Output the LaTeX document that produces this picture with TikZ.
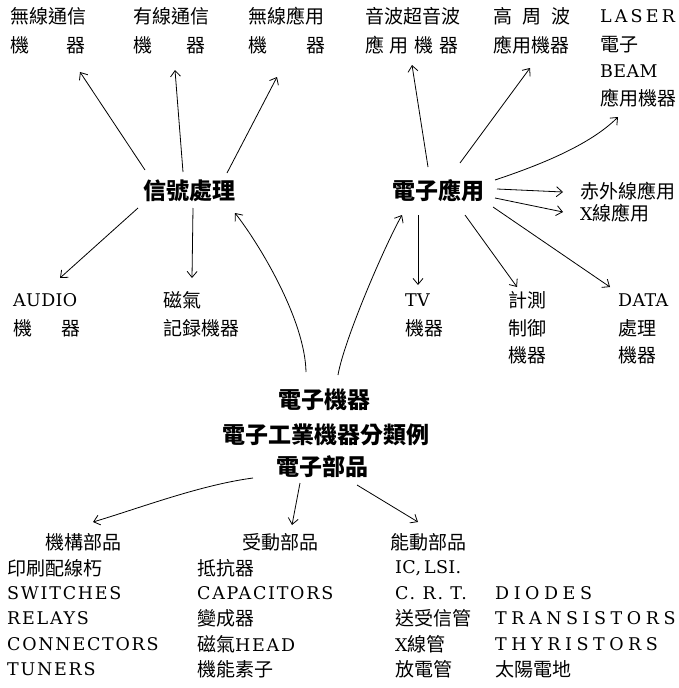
\documentclass[tikz,border=0pt]{standalone}
\usepackage{fontspec}
\setmainfont{DejaVu Serif}
\newfontfamily\cjk{Noto Sans CJK TC}
\newfontfamily\lat{DejaVu Serif}[LetterSpace=10]
\newfontfamily\latn{DejaVu Serif}[LetterSpace=2]
\newfontfamily\latl{DejaVu Serif}[LetterSpace=18]
\newfontfamily\latw{DejaVu Serif}[LetterSpace=26]
\usetikzlibrary{arrows.meta}
\newcommand\zh[1]{{\fontsize{19}{22}\selectfont\cjk #1}}
\newcommand\spr[2]{\hbox to #1{#2}}
\tikzset{
  txt/.style={anchor=west, inner sep=0pt, font=\fontsize{17.5}{22}\selectfont\latn},
  txtm/.style={anchor=west, inner sep=0pt, font=\fontsize{17.5}{22}\selectfont\lat},
  txtl/.style={anchor=west, inner sep=0pt, font=\fontsize{17.5}{22}\selectfont\latl},
  txtw/.style={anchor=west, inner sep=0pt, font=\fontsize{17.5}{22}\selectfont\latw},
  bold/.style={anchor=center, inner sep=0pt, font=\fontsize{23}{26}\selectfont\cjk\bfseries},
  arr/.style={-{Straight Barb[length=6pt,width=10pt]}, line width=0.8pt},
}
\begin{document}
\begin{tikzpicture}[x=1pt,y=-1pt]
\fill[white] (0,0) rectangle (679,688);
\useasboundingbox (0,0) rectangle (679,688);
% top row
\node[txt] (t1a) at (10,16) {\zh{無線通信}};
\node[txt] (t1b) at (10,45) {\zh{\spr{75pt}{機\hfill 器}}};
\node[txt] (t2a) at (133,16) {\zh{有線通信}};
\node[txt] (t2b) at (133,45) {\zh{\spr{72pt}{機\hfill 器}}};
\node[txt] (t3a) at (248,16) {\zh{無線應用}};
\node[txt] (t3b) at (248,45) {\zh{\spr{77pt}{機\hfill 器}}};
\node[txt] (t4a) at (365,16) {\zh{音波超音波}};
\node[txt] (t4b) at (365,45) {\zh{\spr{93pt}{應\hfill 用\hfill 機\hfill 器}}};
\node[txt] (t5a) at (493,16) {\zh{\spr{77pt}{高\hfill 周\hfill 波}}};
\node[txt] (t5b) at (493,45) {\zh{應用機器}};
\node[txtl] (t6a) at (600,16) {LASER};
\node[txt] (t6b) at (600,45) {\zh{\spr{36pt}{電\hfill 子}}};
\node[txt] (t6c) at (600,71) {BEAM};
\node[txt] (t6d) at (600,98) {\zh{應用機器}};
% middle
\node[bold] (sig) at (189,191) {信號處理};
\node[bold] (app) at (438,191) {電子應用};
\node[txt] (ir) at (580,191) {\zh{赤外線應用}};
\node[txt] (xr) at (580,213) {X\zh{線應用}};
\node[txt] (au1) at (13,300) {AUDIO};
\node[txt] (au2) at (13,328) {\zh{\spr{67pt}{機\hfill 器}}};
\node[txt] (mg1) at (163,300) {\zh{磁氣}};
\node[txt] (mg2) at (163,328) {\zh{記録機器}};
\node[txt] (tv1) at (405,300) {TV};
\node[txt] (tv2) at (405,328) {\zh{機器}};
\node[txt] (me1) at (508,300) {\zh{計測}};
\node[txt] (me2) at (508,328) {\zh{制御}};
\node[txt] (me3) at (508,355) {\zh{機器}};
\node[txt] (da1) at (618,300) {DATA};
\node[txt] (da2) at (618,328) {\zh{處理}};
\node[txt] (da3) at (618,355) {\zh{機器}};
% centre block
\node[bold] (dev) at (324,400) {電子機器};
\node[bold] (cls) at (326,435) {電子工業機器分類例};
\node[bold] (parts) at (322,467) {電子部品};
% bottom
\node[txt] (mech) at (45,542) {\zh{機構部品}};
\node[txt] (pass) at (242,542) {\zh{受動部品}};
\node[txt] (act) at (390,542) {\zh{能動部品}};
\node[txt] (l1) at (7,568) {\zh{印刷配線朽}};
\node[txtm] (l2) at (7,593) {SWITCHES};
\node[txtm] (l3) at (7,618) {RELAYS};
\node[txtm] (l4) at (7,644) {CONNECTORS};
\node[txtm] (l5) at (7,669) {TUNERS};
\node[txt] (m1) at (197,568) {\zh{抵抗器}};
\node[txtm] (m2) at (197,593) {CAPACITORS};
\node[txt] (m3) at (197,618) {\zh{變成器}};
\node[txtm] (m4) at (197,644) {\zh{磁氣}HEAD};
\node[txt] (m5) at (197,669) {\zh{機能素子}};
\node[txt] (r1) at (395,568) {IC,\,LSI.};
\node[txtm] (r2) at (395,593) {C. R. T.};
\node[txt] (r3) at (395,618) {\zh{送受信管}};
\node[txt] (r4) at (395,644) {X\zh{線管}};
\node[txt] (r5) at (395,669) {\zh{放電管}};
\node[txtw] (s2) at (495,593) {DIODES};
\node[txtw] (s3) at (495,618) {TRANSISTORS};
\node[txtw] (s4) at (495,644) {THYRISTORS};
\node[txt] (s5) at (495,669) {\zh{太陽電地}};
% arrows from sig
\draw[arr] ([shift={(-44,-21)}]sig.center) -- ([shift={(70,27)}]t1b.west);
\draw[arr] ([shift={(-6,-19)}]sig.center) -- ([shift={(42,25)}]t2b.west);
\draw[arr] ([shift={(38,-18)}]sig.center) -- ([shift={(29,32)}]t3b.west);
\draw[arr] ([shift={(-51,17)}]sig.center) -- ([shift={(47,-22)}]au1.west);
\draw[arr] ([shift={(4,17)}]sig.center) -- ([shift={(29,-22)}]mg1.west);
% arrows from app
\draw[arr] ([shift={(-10,-24)}]app.center) -- ([shift={(47,20)}]t4b.west);
\draw[arr] ([shift={(22,-28)}]app.center) -- ([shift={(37,23)}]t5b.west);
\draw[arr] ([shift={(57,-11)}]app.center) .. controls (540,165) and (590,145) .. ([shift={(18,19)}]t6d.west);
\draw[arr] ([shift={(59,-2)}]app.center) -- ([shift={(-17,1)}]ir.west);
\draw[arr] ([shift={(57,7)}]app.center) -- ([shift={(-17,-1)}]xr.west);
\draw[arr] ([shift={(-20,24)}]app.center) -- ([shift={(13,-15)}]tv1.west);
\draw[arr] ([shift={(27,24)}]app.center) -- ([shift={(9,-13)}]me1.west);
\draw[arr] ([shift={(55,16)}]app.center) -- ([shift={(-8,-13)}]da1.west);
% arrows from dev
\draw[arr] ([shift={(-18,-28)}]dev.center) .. controls (305,320) and (260,245) .. ([shift={(46,22)}]sig.center);
\draw[arr] ([shift={(14,-25)}]dev.center) .. controls (344,340) and (385,245) .. ([shift={(-36,24)}]app.center);
% arrows from parts
\draw[arr] ([shift={(-69,11)}]parts.center) .. controls (200,485) and (140,508) .. ([shift={(48,-20)}]mech.west);
\draw[arr] ([shift={(-22,16)}]parts.center) -- ([shift={(50,-17)}]pass.west);
\draw[arr] ([shift={(35,18)}]parts.center) -- ([shift={(28,-20)}]act.west);
\end{tikzpicture}
\end{document}
